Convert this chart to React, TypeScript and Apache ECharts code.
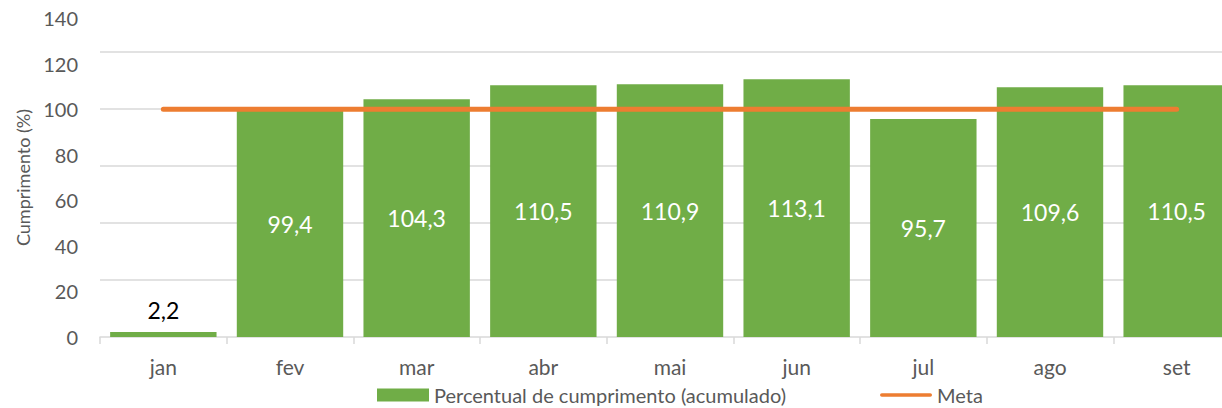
import React, { useEffect, useRef } from "react";
import * as echarts from "echarts";

const categories = ["jan", "fev", "mar", "abr", "mai", "jun", "jul", "ago", "set"];
const percentValues = [2.2, 99.4, 104.3, 110.5, 110.9, 113.1, 95.7, 109.6, 110.5];
const metaValues = [100, 100, 100, 100, 100, 100, 100, 100, 100];
const seriesNames = ["Percentual de cumprimento (acumulado)", "Meta"];
const yAxisName = "Cumprimento (%)";

const FONT = "Lato, 'Open Sans', sans-serif";
const TEXT = "#595959";
const GRID = "#d9d9d9";

export default function App() {
  const ref = useRef<HTMLDivElement>(null);
  useEffect(() => {
    document.body.style.margin = "0";
    if (!ref.current) return;
    const chart = echarts.init(ref.current, undefined, { renderer: "svg" });
    const fmt = (v: number) => String(v).replace(".", ",");
    chart.setOption({
      animation: false,
      textStyle: { fontFamily: FONT },
      grid: {
        left: 100,
        width: 1140,
        top: 18,
        bottom: 71,
        containLabel: false,
        outerBoundsMode: "none",
      },
      legend: {
        left: 372,
        bottom: -2,
        itemWidth: 52,
        itemHeight: 13,
        itemGap: 94,
        textStyle: { fontFamily: FONT, fontSize: 20, color: TEXT },
        data: [
          { name: seriesNames[0], icon: "rect" },
          {
            name: seriesNames[1],
            icon: "path://M2,0 H56 A2,2 0 0 1 56,4 H2 A2,2 0 0 1 2,0 Z",
            itemStyle: { color: "#ed7d31" },
          },
        ],
      },
      xAxis: {
        type: "category",
        data: categories,
        axisLine: { show: true, lineStyle: { color: GRID, width: 1.5 } },
        axisTick: { show: true, length: 7, lineStyle: { color: GRID, width: 1.5 } },
        axisLabel: { color: TEXT, fontSize: 21, fontFamily: FONT, margin: 19 },
      },
      yAxis: [
        {
          type: "value",
          min: 0,
          max: 140,
          interval: 20,
          name: yAxisName,
          nameLocation: "middle",
          nameGap: 68,
          nameTextStyle: { color: TEXT, fontSize: 18, fontFamily: FONT },
          axisLine: { show: false },
          axisTick: { show: false },
          splitLine: { show: false },
          axisLabel: { color: TEXT, fontSize: 20, fontFamily: FONT, margin: 22 },
        },
        {
          type: "value",
          min: 0,
          max: 140,
          interval: 25,
          position: "left",
          axisLine: { show: false },
          axisTick: { show: false },
          axisLabel: { show: false },
          splitLine: {
            show: true,
            showMinLine: false,
            showMaxLine: false,
            lineStyle: { color: GRID, width: 1.5 },
          },
        },
      ],
      series: [
        {
          name: seriesNames[0],
          type: "bar",
          yAxisIndex: 0,
          barCategoryGap: "16%",
          itemStyle: { color: "#70ad47" },
          z: 2,
          label: {
            show: true,
            position: "inside",
            color: "#ffffff",
            fontSize: 23,
            fontFamily: FONT,
            formatter: (p: any) => fmt(p.value),
          },
          data: percentValues.map((v, i) =>
            i === 0
              ? { value: v, label: { position: "top", distance: 10, color: "#000000" } }
              : v
          ),
        },
        {
          name: seriesNames[1],
          type: "line",
          yAxisIndex: 0,
          symbol: "none",
          z: 3,
          itemStyle: { color: "#ed7d31" },
          lineStyle: { color: "#ed7d31", width: 5, cap: "round" },
          data: metaValues,
        },
      ],
    });
    return () => chart.dispose();
  }, []);
  return <div ref={ref} style={{ width: 1222, height: 408 }} />;
}
